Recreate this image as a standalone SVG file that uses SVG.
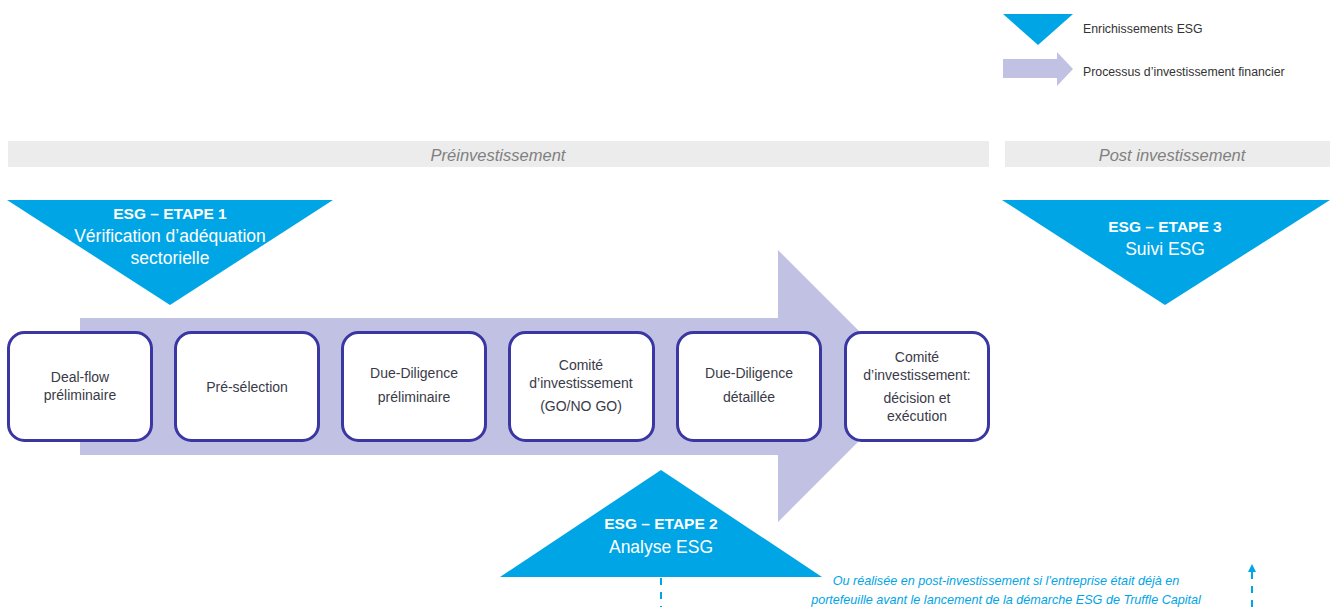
<svg xmlns="http://www.w3.org/2000/svg" width="1330" height="607" viewBox="0 0 1330 607">
<defs>
<style>
.esg{fill:#00a5e6}
.proc{fill:#c1c1e3}
.bar{fill:#ececec}
.bartxt{font-family:"Liberation Sans",Arial,sans-serif;font-style:italic;font-size:16.5px;fill:#808080;text-anchor:middle}
.box{fill:#ffffff;stroke:#3a36a2;stroke-width:3}
.boxtxt{font-family:"Liberation Sans",Arial,sans-serif;font-size:14px;fill:#3a3a48;text-anchor:middle}
.t1{font-family:"Liberation Sans",Arial,sans-serif;font-size:15.5px;font-weight:bold;fill:#ffffff;text-anchor:middle}
.t2{font-family:"Liberation Sans",Arial,sans-serif;font-size:17.5px;fill:#ffffff;text-anchor:middle}
.leg{font-family:"Liberation Sans",Arial,sans-serif;font-size:12.3px;fill:#333333}
.note{font-family:"Liberation Sans",Arial,sans-serif;font-style:italic;font-size:12.6px;fill:#00a5e6;text-anchor:middle}
.dash{stroke:#00a5e6;stroke-width:2;stroke-dasharray:7,7;fill:none}
</style>
<marker id="arrUp" viewBox="0 0 10 10" refX="5" refY="5" markerWidth="4" markerHeight="4" orient="auto">
<path d="M0,0 L10,5 L0,10 z" fill="#00a5e6"/>
</marker>
</defs>

<g id="legend">
<polygon class="esg" points="1003,14 1073,14 1038,45"/>
<text class="leg" x="1083" y="33">Enrichissements ESG</text>
<polygon class="proc" points="1003,59 1057,59 1057,52 1073,69 1057,86 1057,78 1003,78"/>
<text class="leg" x="1083" y="76">Processus d’investissement financier</text>
</g>

<g id="phases">
<rect class="bar" x="8" y="141" width="981" height="26"/>
<text class="bartxt" x="498" y="161">Préinvestissement</text>
<rect class="bar" x="1005" y="141" width="325" height="26"/>
<text class="bartxt" x="1172" y="161">Post investissement</text>
</g>

<g id="process-arrow">
<polygon class="proc" points="80,318 778,318 778,250 914,386 778,522 778,455 80,455"/>
</g>

<g id="esg-etape1">
<polygon class="esg" points="7,200 333,200 170,305"/>
<text class="t1" x="170" y="219">ESG – ETAPE 1</text>
<text class="t2" x="170" y="242">Vérification d’adéquation</text>
<text class="t2" x="170" y="264">sectorielle</text>
</g>

<g id="esg-etape3">
<polygon class="esg" points="1002,200 1330,200 1165,305"/>
<text class="t1" x="1165" y="232">ESG – ETAPE 3</text>
<text class="t2" x="1165" y="255">Suivi ESG</text>
</g>

<g id="esg-etape2">
<polygon class="esg" points="661,470 822,577 500,577"/>
<text class="t1" x="661" y="529">ESG – ETAPE 2</text>
<text class="t2" x="661" y="553">Analyse ESG</text>
</g>

<g id="box1">
<rect class="box" x="8.5" y="332.5" width="143" height="108" rx="16"/>
<text class="boxtxt" x="80" y="382">Deal-flow</text>
<text class="boxtxt" x="80" y="400">préliminaire</text>
</g>
<g id="box2">
<rect class="box" x="175.5" y="332.5" width="143" height="108" rx="16"/>
<text class="boxtxt" x="247" y="392">Pré-sélection</text>
</g>
<g id="box3">
<rect class="box" x="342.5" y="332.5" width="143" height="108" rx="16"/>
<text class="boxtxt" x="414" y="378">Due-Diligence</text>
<text class="boxtxt" x="414" y="402">préliminaire</text>
</g>
<g id="box4">
<rect class="box" x="509.5" y="332.5" width="144" height="108" rx="16"/>
<text class="boxtxt" x="581" y="370">Comité</text>
<text class="boxtxt" x="581" y="388">d’investissement</text>
<text class="boxtxt" x="581" y="411">(GO/NO GO)</text>
</g>
<g id="box5">
<rect class="box" x="677.5" y="332.5" width="143" height="108" rx="16"/>
<text class="boxtxt" x="749" y="378">Due-Diligence</text>
<text class="boxtxt" x="749" y="402">détaillée</text>
</g>
<g id="box6">
<rect class="box" x="845.5" y="332.5" width="143" height="108" rx="16"/>
<text class="boxtxt" x="917" y="362">Comité</text>
<text class="boxtxt" x="917" y="380">d’investissement:</text>
<text class="boxtxt" x="917" y="403">décision et</text>
<text class="boxtxt" x="917" y="421">exécution</text>
</g>

<g id="connectors">
<line class="dash" x1="661" y1="578" x2="661" y2="607"/>
<line class="dash" x1="1252" y1="607" x2="1252" y2="568" marker-end="url(#arrUp)"/>
</g>

<g id="note">
<text class="note" x="1006" y="585">Ou réalisée en post-investissement si l’entreprise était déjà en</text>
<text class="note" x="1006" y="604">portefeuille avant le lancement de la démarche ESG de Truffle Capital</text>
</g>
</svg>
